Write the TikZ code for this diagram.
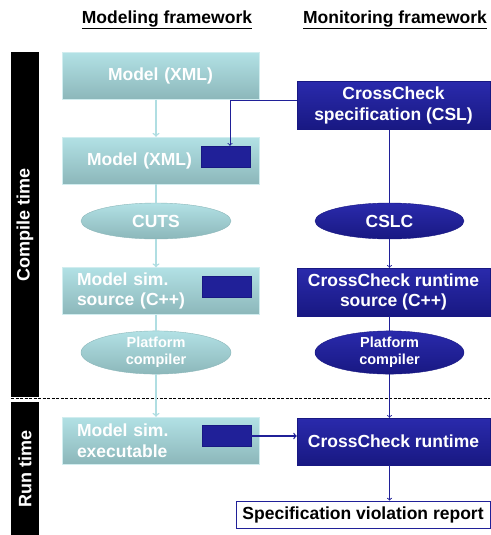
\documentclass[tikz,border=0pt]{standalone}
\usepackage{fontspec}
\setmainfont{Liberation Sans}
\usetikzlibrary{shapes.geometric}
\definecolor{tealtop}{RGB}{178,225,229}
\definecolor{tealbot}{RGB}{140,183,186}
\definecolor{tealline}{RGB}{176,222,226}
\definecolor{ccblue}{RGB}{32,32,152}
\definecolor{ccbluetop}{RGB}{42,42,172}
\definecolor{ccbluebot}{RGB}{24,24,130}
\begin{document}
\begin{tikzpicture}[x=1pt, y=-1pt, font=\fontsize{17.5}{20.5}\selectfont\bfseries,
    mbox/.style={top color=tealtop, bottom color=tealbot, draw=tealtop!60!white, text=white,
      minimum height=47pt, text width=167pt, inner xsep=15pt, align=left},
    mellip/.style={ellipse, top color=tealtop, bottom color=tealbot, draw=tealbot, text=white,
      minimum width=150pt, minimum height=36pt, inner sep=0pt, align=center},
    cbox/.style={top color=ccbluetop, bottom color=ccbluebot, draw=ccbluebot, text=white,
      minimum width=193pt, minimum height=48pt, inner xsep=2pt, align=center},
    cellip/.style={ellipse, top color=ccbluetop, bottom color=ccbluebot, draw=ccbluebot, text=white,
      minimum width=149pt, minimum height=36pt, inner sep=0pt, align=center},
    port/.style={fill=ccblue, draw=ccbluebot, minimum width=49pt, minimum height=21pt, inner sep=0pt},
    timebar/.style={fill=black, text=white, rotate=90, minimum height=28pt, inner sep=0pt}]
    \useasboundingbox (0,0) rectangle (490,535);
    % column headers
    \node (hmod) at (167,20) {\underline{Modeling framework}};
    \node (hmon) at (395,20) {\underline{Monitoring framework}};
    % time bars
    \node (ct) [timebar, minimum width=345pt] at (25,224.5) {\fontsize{18}{20}\selectfont Compile time};
    \node (rt) [timebar, minimum width=133pt] at (25,468.5) {\fontsize{18}{20}\selectfont Run time};
    \draw[dashed, dash pattern=on 3pt off 1.5pt, line width=0.8pt] (11,398) -- (490,398);
    % modeling framework
    \node (m1) [mbox, align=center] at (160.5,76) {Model (XML)};
    \node (m2) [mbox] at (160.5,160.5) {\hspace*{10pt}Model (XML)};
    \node (m2port) [port] at (226,156.5) {};
    \node (cuts) [mellip] at (156,221) {CUTS};
    \node (m3) [mbox] at (160.5,291) {Model sim.\\source (C++)};
    \node (m3port) [port] at (226.5,286.5) {};
    \node (pc1) [mellip, font=\fontsize{14.5}{17}\selectfont\bfseries] at (156,352.5) {Platform\\compiler};
    \node (m4) [mbox] at (160.5,440.5) {Model sim.\\executable};
    \node (m4port) [port] at (226.5,436) {};
    % monitoring framework
    \node (csl) [cbox] at (393.5,105.5) {CrossCheck\\specification (CSL)};
    \node (cslc) [cellip] at (389.5,221) {CSLC};
    \node (crs) [cbox] at (393.5,292) {CrossCheck runtime\\source (C++)};
    \node (pc2) [cellip, font=\fontsize{14.5}{17}\selectfont\bfseries] at (389.5,352.5) {Platform\\compiler};
    \node (crt) [cbox, minimum height=47pt] at (393.5,441.5) {CrossCheck runtime};
    \node (rep) [draw=ccblue, fill=white, text=black, line width=0.8pt, inner xsep=2pt, minimum width=254pt, minimum height=27pt] at (363,514.5) {Specification violation report};
    % connectors
    \draw[tealline, line width=1.5pt, ->] (m1.south -| cuts) -- (m2.north -| cuts);
    \draw[tealline, line width=1.5pt] (m2.south -| cuts) -- (cuts);
    \draw[tealline, line width=1.5pt, ->] (cuts) -- (m3.north -| cuts);
    \draw[tealline, line width=1.5pt] (m3.south -| cuts) -- (pc1);
    \draw[tealline, line width=1.5pt, ->] (pc1) -- (m4.north -| cuts);
    \draw[ccblue, line width=0.9pt] (csl.south -| cslc) -- (cslc);
    \draw[ccblue, line width=0.9pt, ->] (cslc) -- (crs.north -| cslc);
    \draw[ccblue, line width=0.9pt] (crs.south -| cslc) -- (pc2);
    \draw[ccblue, line width=0.9pt, ->] (pc2) -- (crt.north -| cslc);
    \draw[ccblue, line width=0.9pt, ->] (crt.south -| cslc) -- (rep.north -| cslc);
    \draw[ccblue, line width=0.9pt, ->] ([yshift=5.5pt]csl.west) -| ([xshift=4pt]m2port.north);
    \draw[ccblue, line width=1.3pt, ->] (m4port.east) -- (m4port.east -| crt.west);
\end{tikzpicture}
\end{document}
